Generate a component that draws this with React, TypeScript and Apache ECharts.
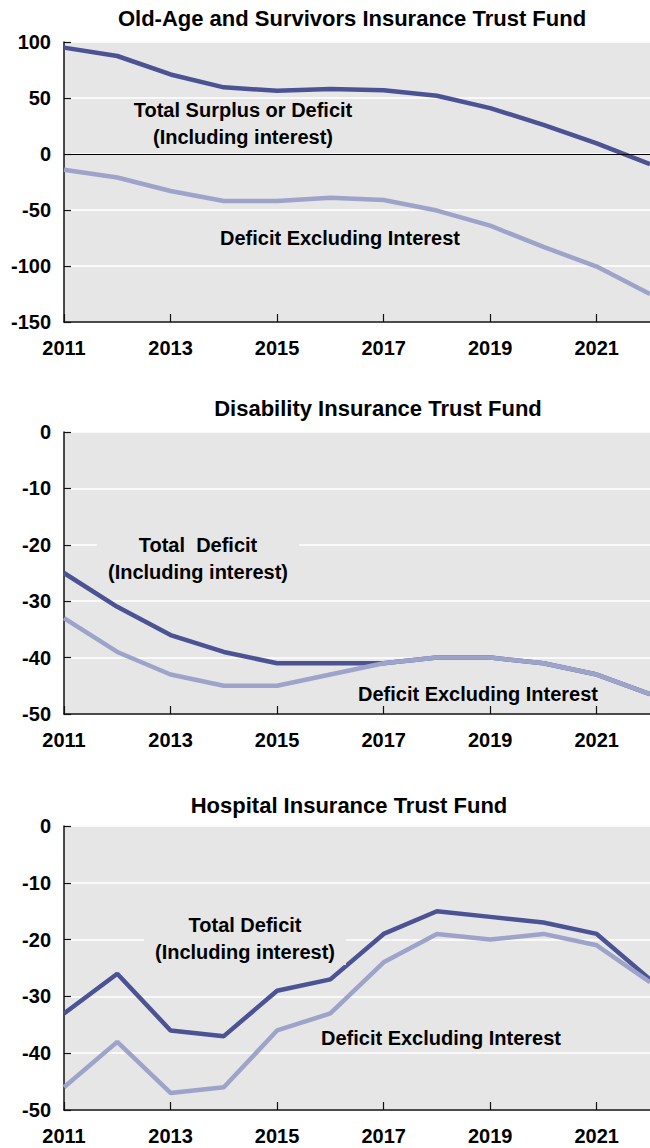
import React, { useEffect, useRef } from "react";
import * as echarts from "echarts";

const years = [2011, 2012, 2013, 2014, 2015, 2016, 2017, 2018, 2019, 2020, 2021, 2022];
const oasiTotal = [95, 87.5, 71, 59.5, 56.5, 58, 57, 52, 41, 26, 9.5, -9];
const oasiExcl = [-14, -21, -33, -42, -42, -39, -41, -50.5, -64, -83, -100.5, -125];
const diTotal = [-25, -31, -36, -39, -41, -41, -41, -40, -40, -41, -43, -46.5];
const diExcl = [-33, -39, -43, -45, -45, -43, -41, -40, -40, -41, -43, -46.5];
const hiTotal = [-33, -26, -36, -37, -29, -27, -19, -15, -16, -17, -19, -27];
const hiExcl = [-46, -38, -47, -46, -36, -33, -24, -19, -20, -19, -21, -27.5];

const titles = [
  "Old-Age and Survivors Insurance Trust Fund",
  "Disability Insurance Trust Fund",
  "Hospital Insurance Trust Fund",
];
const totalLabels = [
  "Total Surplus or Deficit\n(Including interest)",
  "Total  Deficit\n(Including interest)",
  "Total Deficit\n(Including interest)",
];
const exclLabel = "Deficit Excluding Interest";
const yRanges = [
  { min: -150, max: 100, interval: 50 },
  { min: -50, max: 0, interval: 10 },
  { min: -50, max: 0, interval: 10 },
];

const DARK = "#4b5394";
const LIGHT = "#9ea3c9";
const BG = "#e6e6e6";
const FONT = "'Liberation Sans', Arial, sans-serif";

const grids = [
  { top: 42, height: 280 },
  { top: 432, height: 282 },
  { top: 826, height: 284 },
];
const titlePos = [
  [352, 18],
  [378, 408],
  [349, 805],
];
const totalPos = [
  [243, 123],
  [198, 558],
  [245, 938],
];
const exclPos = [
  [340, 238],
  [478, 694],
  [441, 1038],
];

const pairs = (ys: number[]) => years.map((y, i) => [y, ys[i]]);

export default function App() {
  const ref = useRef<HTMLDivElement>(null);
  useEffect(() => {
    if (!ref.current) return;
    const chart = echarts.init(ref.current, undefined, { renderer: "svg" });
    const seriesData = [
      [oasiTotal, oasiExcl],
      [diTotal, diExcl],
      [hiTotal, hiExcl],
    ];
    const series: any[] = [];
    seriesData.forEach((p, gi) => {
      series.push({
        type: "line",
        xAxisIndex: gi,
        yAxisIndex: gi,
        data: pairs(p[0]),
        symbol: "none",
        lineStyle: { color: DARK, width: 4.5 },
        itemStyle: { color: DARK },
        z: 3,
        markLine:
          gi === 0
            ? {
                silent: true,
                symbol: "none",
                label: { show: false },
                lineStyle: { color: "#000", width: 1, type: "solid" },
                data: [{ yAxis: 0 }],
              }
            : undefined,
      });
      series.push({
        type: "line",
        xAxisIndex: gi,
        yAxisIndex: gi,
        data: pairs(p[1]),
        symbol: "none",
        lineStyle: { color: LIGHT, width: 4.5 },
        itemStyle: { color: LIGHT },
        z: 4,
      });
    });

    const graphic: any[] = [];
    titles.forEach((t, i) => {
      graphic.push({
        type: "text",
        x: titlePos[i][0],
        y: titlePos[i][1],
        z: 100,
        style: {
          text: t,
          fill: "#000",
          font: `bold 22px ${FONT}`,
          textAlign: "center",
          textVerticalAlign: "middle",
        },
      });
      graphic.push({
        type: "text",
        x: totalPos[i][0],
        y: totalPos[i][1],
        z: 100,
        style: {
          text: totalLabels[i],
          fill: "#000",
          font: `bold 20px ${FONT}`,
          lineHeight: 27,
          textAlign: "center",
          textVerticalAlign: "middle",
          backgroundColor: i === 0 ? undefined : BG,
          padding: [0, 11],
        },
      });
      graphic.push({
        type: "text",
        x: exclPos[i][0],
        y: exclPos[i][1],
        z: 100,
        style: {
          text: exclLabel,
          fill: "#000",
          font: `bold 20px ${FONT}`,
          textAlign: "center",
          textVerticalAlign: "middle",
        },
      });
    });

    chart.setOption({
      animation: false,
      grid: grids.map((g) => ({
        left: 64,
        width: 592,
        top: g.top,
        height: g.height,
        show: true,
        backgroundColor: BG,
        borderWidth: 0,
      })),
      xAxis: grids.map((_, i) => ({
        type: "value",
        gridIndex: i,
        min: 2011,
        max: 2022,
        interval: 2,
        axisLine: { show: true, onZero: false, lineStyle: { color: "#111", width: 1.5 } },
        axisTick: { show: true, inside: true, length: 8, lineStyle: { color: "#111", width: 1.2 } },
        splitLine: { show: false },
        axisLabel: {
          show: true,
          margin: 16,
          color: "#000",
          fontWeight: "bold",
          fontSize: 20,
          fontFamily: FONT,
          showMaxLabel: false,
          formatter: (v: number) => String(v),
        },
      })),
      yAxis: yRanges.map((r, i) => ({
        type: "value",
        gridIndex: i,
        min: r.min,
        max: r.max,
        interval: r.interval,
        axisLine: { show: true, onZero: false, lineStyle: { color: "#111", width: 1.5 } },
        axisTick: { show: true, inside: true, length: 7, lineStyle: { color: "#111", width: 1.2 } },
        splitLine: { show: true, lineStyle: { color: "#ffffff", width: 1.5 } },
        axisLabel: {
          show: true,
          margin: 13,
          color: "#000",
          fontWeight: "bold",
          fontSize: 20,
          fontFamily: FONT,
        },
      })),
      series,
      graphic,
    });
    return () => chart.dispose();
  }, []);
  return (
    <div
      ref={ref}
      style={{ position: "absolute", left: 0, top: 0, width: 650, height: 1148, background: "#fff" }}
    />
  );
}
